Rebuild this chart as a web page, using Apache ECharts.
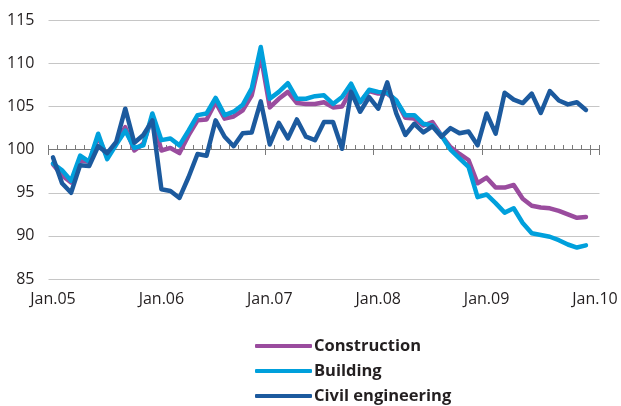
<!DOCTYPE html>
<html>
<head>
<meta charset="utf-8">
<script src="https://cdn.jsdelivr.net/npm/echarts@6/dist/echarts.min.js"></script>
<style>
  html, body { margin: 0; padding: 0; background: #fff; }
  #chart { width: 621px; height: 406px; }
</style>
</head>
<body>
<div id="chart"></div>
<script>
// monthly index, Jan.05 - Dec.09 (plus Jan.10 slot for the last axis label)
const years = ['05', '06', '07', '08', '09', '10']
const monthNames = ['Jan', 'Feb', 'Mar', 'Apr', 'May', 'Jun', 'Jul', 'Aug', 'Sep', 'Oct', 'Nov', 'Dec']
const yTicks = [85, 90, 95, 100, 105, 110, 115]

const construction = [
  98.3, 97.0, 96.2, 98.8, 98.6, 101.5, 99.15, 100.8, 102.6, 99.9,
  100.7, 103.8, 99.9, 100.2, 99.6, 101.65, 103.4, 103.5, 105.5, 103.6,
  103.85, 104.55, 106.3, 110.9, 104.9, 105.9, 106.7, 105.4, 105.3, 105.3,
  105.5, 104.9, 105.0, 106.9, 105.5, 106.8, 106.5, 106.5, 105.7, 103.7,
  103.6, 102.8, 103.2, 101.65, 100.3, 99.5, 98.8, 96.1, 96.75, 95.6,
  95.6, 95.9, 94.3, 93.5, 93.3, 93.2, 92.9, 92.5, 92.1, 92.2
]
const building = [
  98.4, 97.6, 96.4, 99.3, 98.6, 101.85, 98.9, 100.6, 102.2, 100.2,
  100.5, 104.2, 101.1, 101.3, 100.5, 102.2, 104.0, 104.2, 106.0, 104.0,
  104.4, 105.2, 107.1, 111.9, 105.9, 106.7, 107.7, 105.9, 105.9, 106.2,
  106.3, 105.3, 106.1, 107.65, 105.5, 106.95, 106.7, 106.6, 105.7, 104.0,
  104.0, 103.0, 102.8, 101.65, 100.0, 99.0, 98.0, 94.5, 94.8, 93.8,
  92.7, 93.2, 91.5, 90.3, 90.1, 89.9, 89.5, 89.0, 88.65, 88.9
]
const civilEngineering = [
  99.1, 96.1, 95.0, 98.2, 98.1, 100.4, 99.6, 100.9, 104.75, 100.8,
  101.7, 103.4, 95.4, 95.2, 94.4, 96.8, 99.5, 99.3, 103.4, 101.5,
  100.4, 101.9, 102.0, 105.6, 100.6, 103.1, 101.3, 103.5, 101.5, 101.1,
  103.2, 103.2, 100.1, 106.7, 104.4, 106.1, 104.75, 107.8, 104.2, 101.7,
  103.0, 102.0, 102.7, 101.5, 102.5, 101.9, 102.1, 100.5, 104.2, 101.85,
  106.6, 105.8, 105.4, 106.5, 104.25, 106.8, 105.7, 105.25, 105.5, 104.6
]

const categories = []
years.forEach(y => {
  monthNames.forEach(m => {
    if (y === '10' && m !== 'Jan') return
    categories.push(m + '.' + y)
  })
})

const txt = '#231f20'
const font = '"Open Sans", "Noto Sans", sans-serif'
// pixel shift from the bottom of the grid (85) up to the 100 line
const axisShift = -130

const chart = echarts.init(document.getElementById('chart'))

const lineSeries = (name, data, color) => ({
  name: name,
  type: 'line',
  data: data,
  xAxisIndex: 0,
  symbol: 'none',
  animation: false,
  lineStyle: { color: color, width: 4.5, cap: 'round', join: 'round' },
  itemStyle: { color: color }
})

chart.setOption({
  animation: false,
  grid: { left: 48.5, right: 21.5, top: 20.3, bottom: 127 },
  legend: {
    orient: 'vertical',
    left: 255,
    top: 337,
    padding: 0,
    icon: 'roundRect',
    itemWidth: 57,
    itemHeight: 4,
    itemGap: 7,
    textStyle: { color: txt, fontFamily: font, fontSize: 16.5, fontWeight: 'bold', lineHeight: 18, padding: [0, 0, 0, -3] },
    data: ['Construction', 'Building', 'Civil engineering']
  },
  xAxis: [
    {
      // labels only
      type: 'category',
      data: categories,
      boundaryGap: true,
      axisLine: { show: false },
      axisTick: { show: false },
      splitLine: { show: false },
      axisLabel: { interval: 11, color: txt, fontFamily: font, fontSize: 16, margin: 12 }
    },
    {
      // axis line at 100 with monthly ticks pointing up
      type: 'category',
      data: categories,
      boundaryGap: true,
      position: 'bottom',
      offset: axisShift,
      axisLine: { show: true, lineStyle: { color: '#7a7a7a', width: 1 } },
      axisTick: { show: true, inside: true, interval: 0, length: 4, lineStyle: { color: '#7a7a7a' } },
      axisLabel: { show: false },
      splitLine: { show: false }
    },
    {
      // yearly ticks pointing down
      type: 'category',
      data: categories,
      boundaryGap: true,
      position: 'bottom',
      offset: axisShift,
      axisLine: { show: false },
      axisTick: { show: true, inside: false, interval: 11, length: 6, lineStyle: { color: '#7a7a7a' } },
      axisLabel: { show: false },
      splitLine: { show: false }
    }
  ],
  yAxis: {
    type: 'value',
    min: yTicks[0],
    max: yTicks[yTicks.length - 1],
    interval: 5,
    axisLine: { show: false },
    axisTick: { show: false },
    axisLabel: { color: txt, fontFamily: font, fontSize: 16, margin: 14 },
    splitLine: { lineStyle: { color: '#c6c6c6', width: 1 } }
  },
  series: [
    lineSeries('Construction', construction, '#9a4c9e'),
    lineSeries('Building', building, '#00a0dc'),
    lineSeries('Civil engineering', civilEngineering, '#1c5a9e')
  ]
})
</script>
</body>
</html>
